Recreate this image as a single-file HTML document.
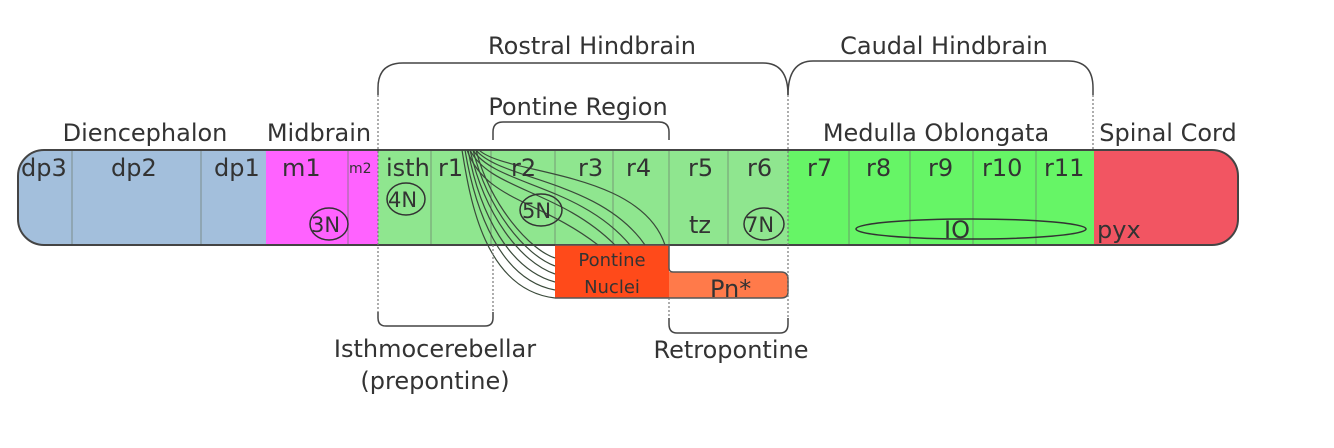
<!DOCTYPE html>
<html><head><meta charset="utf-8"><style>
html,body{margin:0;padding:0;background:#fff;width:1334px;height:448px;overflow:hidden}
svg text{font-family:"DejaVu Sans","Liberation Sans",sans-serif;fill:#333}
</style></head><body>
<svg width="1334" height="448" viewBox="0 0 1334 448" xmlns="http://www.w3.org/2000/svg">
<defs><clipPath id="bar"><rect x="18" y="150" width="1220" height="95" rx="26"/></clipPath></defs>
<g clip-path="url(#bar)">
<rect x="0" y="150" width="266" height="95" fill="#a3bfdc"/>
<rect x="266" y="150" width="112" height="95" fill="#ff62ff"/>
<rect x="378" y="150" width="410" height="95" fill="#8fe68f"/>
<rect x="788" y="150" width="306" height="95" fill="#66f566"/>
<rect x="1094" y="150" width="160" height="95" fill="#f25562"/>
<g stroke="#6a7a6a" stroke-width="1" opacity="0.7">
<line x1="72" y1="150" x2="72" y2="245"/><line x1="201" y1="150" x2="201" y2="245"/>
<line x1="348" y1="150" x2="348" y2="245"/><line x1="431" y1="150" x2="431" y2="245"/>
<line x1="491" y1="150" x2="491" y2="245"/><line x1="555" y1="150" x2="555" y2="245"/>
<line x1="613" y1="150" x2="613" y2="245"/><line x1="669" y1="150" x2="669" y2="245"/>
<line x1="728" y1="150" x2="728" y2="245"/><line x1="849" y1="150" x2="849" y2="245"/>
<line x1="910" y1="150" x2="910" y2="245"/><line x1="973" y1="150" x2="973" y2="245"/>
<line x1="1036" y1="150" x2="1036" y2="245"/>
</g>
</g>
<rect x="18" y="150" width="1220" height="95" rx="26" fill="none" stroke="#444" stroke-width="2"/>
<path d="M555 245 H669 V272 H781 Q788 272 788 279 V292 Q788 298 781 298 H555 Z" fill="#ff4a1a"/>
<path d="M669 272 H781 Q788 272 788 279 V292 Q788 298 781 298 H669 Z" fill="#ff7a4a"/>
<path d="M555 245 H669 V268 Q669 272 673 272 H781 Q788 272 788 279 V292 Q788 298 781 298 H555" fill="none" stroke="#555" stroke-width="1.5"/>
<g fill="none" stroke="#3a4a3a" stroke-width="1.2">
<path d="M462 150 C470 200 485 290 555 298"/>
<path d="M465 150 C475 210 500 280 555 290"/>
<path d="M468 150 C480 215 510 270 555 282"/>
<path d="M470 150 C485 215 520 262 555 274"/>
<path d="M473 150 C488 210 525 255 555 266"/>
<path d="M476 150 C490 205 530 250 555 258"/>
<path d="M470 150 C490 190 560 190 615 245"/>
<path d="M473 150 C495 185 580 185 630 245"/>
<path d="M476 150 C500 180 600 180 645 245"/>
<path d="M479 150 C505 175 640 170 665 245"/>
<path d="M467 150 C485 200 540 200 598 245"/>
</g>
<g fill="none" stroke="#333" stroke-width="1.5">
<ellipse cx="329" cy="224" rx="19" ry="16"/>
<ellipse cx="406" cy="199" rx="19" ry="16"/>
<ellipse cx="541" cy="210" rx="21" ry="16"/>
<ellipse cx="764" cy="224" rx="20" ry="16"/>
<ellipse cx="971" cy="229" rx="115" ry="10"/>
</g>
<g font-size="24">
<text x="21" y="176">dp3</text><text x="111" y="176">dp2</text><text x="214" y="176">dp1</text>
<text x="282" y="176">m1</text><text x="349" y="173" font-size="14">m2</text>
<text x="386" y="176">isth</text><text x="438" y="176">r1</text>
<text x="511" y="176">r2</text><text x="578" y="176">r3</text><text x="626" y="176">r4</text>
<text x="688" y="176">r5</text><text x="747" y="176">r6</text>
<text x="807" y="176">r7</text><text x="866" y="176">r8</text><text x="928" y="176">r9</text>
<text x="982" y="176">r10</text><text x="1044" y="176">r11</text>
<text x="311" y="232" font-size="21">3N</text><text x="388" y="207" font-size="21">4N</text>
<text x="522" y="218" font-size="21">5N</text><text x="745" y="232" font-size="21">7N</text>
<text x="689" y="233">tz</text><text x="944" y="238">IO</text>
<text x="1097" y="238">pyx</text>
<text x="710" y="297">Pn*</text>
</g>
<text x="612" y="266" font-size="18" text-anchor="middle" fill="#333">Pontine</text>
<text x="612" y="293" font-size="18" text-anchor="middle" fill="#333">Nuclei</text>
<g font-size="24" text-anchor="middle">
<text x="592" y="54">Rostral Hindbrain</text>
<text x="944" y="54">Caudal Hindbrain</text>
<text x="578" y="115">Pontine Region</text>
<text x="145" y="141">Diencephalon</text>
<text x="319" y="141">Midbrain</text>
<text x="936" y="141">Medulla Oblongata</text>
<text x="1168" y="141">Spinal Cord</text>
<text x="435" y="357">Isthmocerebellar</text>
<text x="435" y="389">(prepontine)</text>
<text x="731" y="358">Retropontine</text>
</g>
<g fill="none" stroke="#444" stroke-width="1.5">
<path d="M378 95 V88 Q378 63 403 63 H763 Q788 63 788 95"/>
<path d="M788 95 Q788 61 813 61 H1068 Q1093 61 1093 88 V95"/>
<path d="M493 140 V132 Q493 122 503 122 H659 Q669 122 669 132 V140"/>
<path d="M378 312 V318 Q378 326 386 326 H485 Q493 326 493 318 V312"/>
<path d="M669 318 V324 Q669 333 677 333 H780 Q788 333 788 324 V318"/>
</g>
<g stroke="#777" stroke-width="1.2" stroke-dasharray="2,2">
<line x1="378" y1="95" x2="378" y2="312"/>
<line x1="788" y1="95" x2="788" y2="318"/>
<line x1="1093" y1="95" x2="1093" y2="150"/>
<line x1="493" y1="245" x2="493" y2="312"/>
<line x1="669" y1="298" x2="669" y2="318"/>
</g>
</svg>
</body></html>
